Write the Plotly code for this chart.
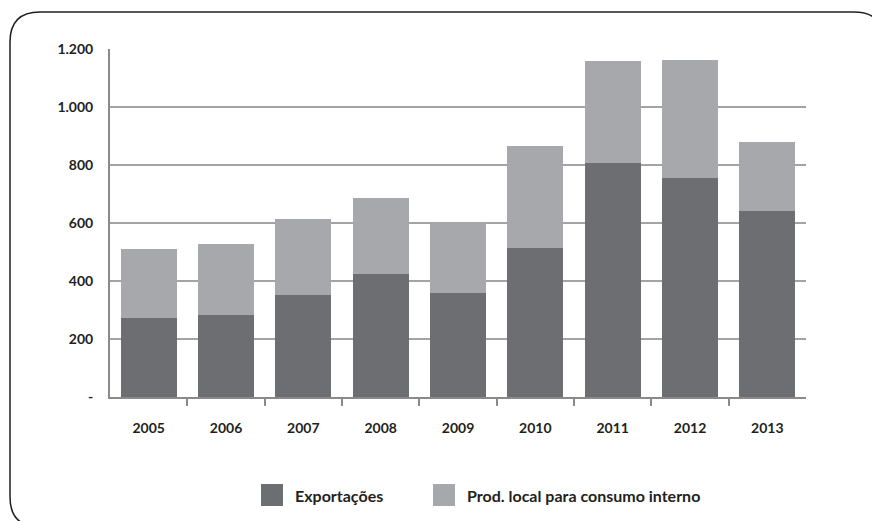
import plotly.graph_objects as go

years = ["2005", "2006", "2007", "2008", "2009", "2010", "2011", "2012", "2013"]
exportacoes = [272, 283, 352, 424, 359, 514, 807, 755, 641]
totals = [510, 527, 614, 686, 600, 866, 1159, 1162, 879]
prod_local = [t - e for t, e in zip(totals, exportacoes)]
y_ticks = [0, 200, 400, 600, 800, 1000, 1200]
y_ticklabels = ["-", "200", "400", "600", "800", "1.000", "1.200"]
series_names = ["Exportações", "Prod. local para consumo interno"]

DARK = "#6d6e71"
LIGHT = "#a7a8ab"
TXT = "#231f20"
W, H = 872, 521
L, R, T, B = 110, 66, 49, 124
PW, PH = W - L - R, H - T - B


def px(x):
    return (x - L) / PW


def py(y):
    return (H - B - y) / PH


fig = go.Figure()
fig.add_trace(go.Bar(x=years, y=exportacoes, name=series_names[0],
                     marker=dict(color=DARK, line=dict(width=0)), showlegend=False))
fig.add_trace(go.Bar(x=years, y=prod_local, name=series_names[1],
                     marker=dict(color=LIGHT, line=dict(width=0)), showlegend=False))
# invisible trace to carry boundary ticks on a linear overlay axis
fig.add_trace(go.Scatter(x=[-0.5, 8.5], y=[0, 0], xaxis="x2", mode="markers",
                         marker=dict(opacity=0), hoverinfo="skip", showlegend=False))

font_family = "Lato, 'Open Sans', sans-serif"
fig.update_layout(
    width=W, height=H,
    margin=dict(l=L, r=R, t=T, b=B),
    barmode="stack", bargap=0.28,
    plot_bgcolor="white", paper_bgcolor="white",
    font=dict(family=font_family, color=TXT),
    xaxis=dict(showline=True, linecolor="#8a8a8a", linewidth=2, showgrid=False,
               ticks="", tickfont=dict(size=14, family=font_family, weight="bold", color=TXT),
               ticklabelstandoff=17, zeroline=False),
    xaxis2=dict(overlaying="x", range=[-0.5, 8.5], tickvals=[0.5, 1.5, 2.5, 3.5, 4.5, 5.5, 6.5, 7.5],
                ticks="outside", ticklen=8, tickwidth=1.5, tickcolor="#8a8a8a",
                showticklabels=False, showgrid=False, showline=False, zeroline=False,
                side="bottom", anchor="y"),
    yaxis=dict(range=[0, 1200], tickvals=y_ticks, ticktext=y_ticklabels,
               showline=True, linecolor="#8a8a8a", linewidth=2,
               showgrid=True, gridcolor="#a3a3a3", gridwidth=1.5,
               zeroline=False, ticks="", ticklabelstandoff=12,
               tickfont=dict(size=14, family=font_family, weight="bold", color=TXT)),
)

# rounded frame
x0, y0, x1, y1, r = 10, 12, 884, 527, 30
path = (f"M {px(x0)},{py(y0 + r)} "
        f"Q {px(x0)},{py(y0)} {px(x0 + r)},{py(y0)} "
        f"L {px(x1 - r)},{py(y0)} "
        f"Q {px(x1)},{py(y0)} {px(x1)},{py(y0 + r)} "
        f"L {px(x1)},{py(y1 - r)} "
        f"Q {px(x1)},{py(y1)} {px(x1 - r)},{py(y1)} "
        f"L {px(x0 + r)},{py(y1)} "
        f"Q {px(x0)},{py(y1)} {px(x0)},{py(y1 - r)} Z")
fig.add_shape(type="path", path=path, xref="paper", yref="paper",
              line=dict(color="#231f20", width=1.5), layer="below")

# legend
legend_items = [(261, DARK, series_names[0]), (433, LIGHT, series_names[1])]
for lx, col, name in legend_items:
    fig.add_shape(type="rect", xref="paper", yref="paper",
                  x0=px(lx), x1=px(lx + 22), y0=py(506), y1=py(484),
                  fillcolor=col, line=dict(width=0))
    fig.add_annotation(x=px(lx + 32), y=py(495), xref="paper", yref="paper",
                       text=name, showarrow=False, xanchor="left", yanchor="middle",
                       font=dict(size=16, family=font_family, weight="bold", color=TXT))

fig.write_html("out.html")
